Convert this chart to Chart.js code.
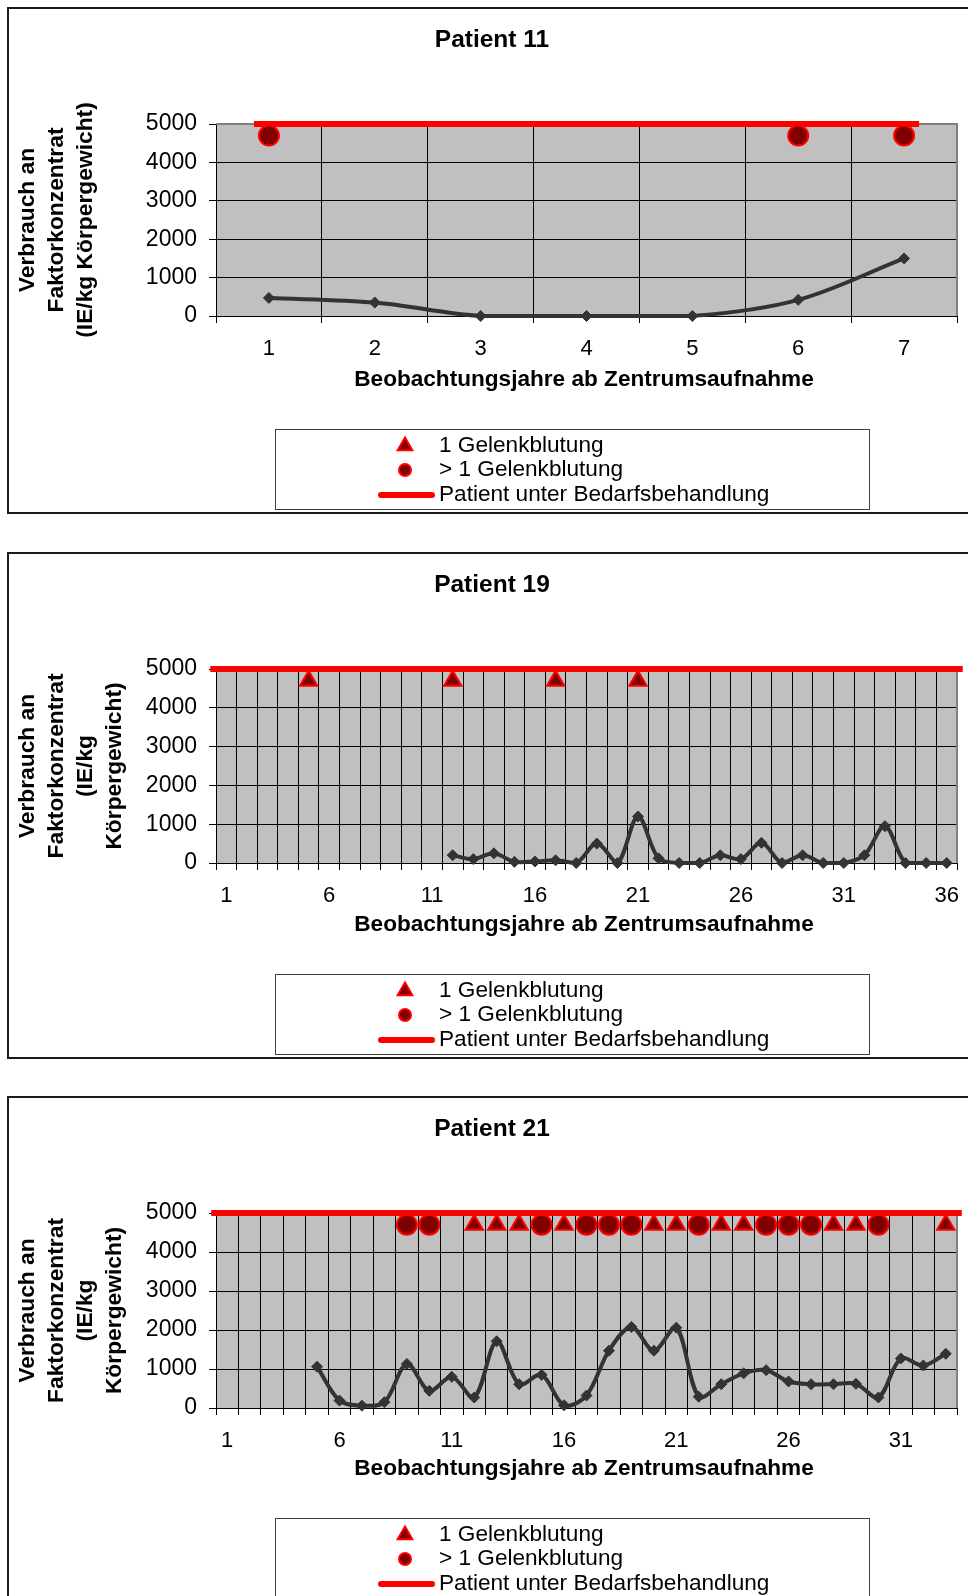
<!DOCTYPE html>
<html lang="de">
<head>
<meta charset="utf-8">
<title>Faktorverbrauch und Gelenkblutungen</title>
<script src="https://cdn.jsdelivr.net/npm/chart.js@4.4.1/dist/chart.umd.min.js"></script>
<style>
  html, body { margin: 0; padding: 0; background: #fff; overflow: hidden; }
  body { width: 968px; height: 1596px; position: relative; }
  canvas { position: absolute; left: 0; display: block; }
</style>
</head>
<body>
<canvas id="p11" width="968" height="545" style="top:0"></canvas>
<canvas id="p19" width="968" height="545" style="top:545px"></canvas>
<canvas id="p21" width="968" height="507" style="top:1089px"></canvas>
<script>
// Patient 11
const jahre11 = ['1', '2', '3', '4', '5', '6', '7'];
const achse11 = ['1', '2', '3', '4', '5', '6', '7'];
const verbrauch11 = [470, 350, 0, 0, 0, 420, 1500];
const bedarf11 = [5000, 5000, 5000, 5000, 5000, 5000, 5000];
const eineBlutung11 = [];
const mehrBlutung11 = [1, 6, 7];

// Patient 19
const jahre19 = ['1', '2', '3', '4', '5', '6', '7', '8', '9', '10', '11', '12',
  '13', '14', '15', '16', '17', '18', '19', '20', '21', '22', '23', '24',
  '25', '26', '27', '28', '29', '30', '31', '32', '33', '34', '35', '36'];
const achse19 = ['1', '6', '11', '16', '21', '26', '31', '36'];
const verbrauch19 = [null, null, null, null, null, null, null, null, null, null, null,
  200, 100, 250, 30, 40, 70, 0, 500, 0, 1200, 120, 0, 0, 200, 100, 520, 0, 200, 0, 0,
  200, 950, 0, 0, 0];
const bedarf19 = [5000, 5000, 5000, 5000, 5000, 5000, 5000, 5000, 5000, 5000, 5000, 5000,
  5000, 5000, 5000, 5000, 5000, 5000, 5000, 5000, 5000, 5000, 5000, 5000,
  5000, 5000, 5000, 5000, 5000, 5000, 5000, 5000, 5000, 5000, 5000, 5000];
const eineBlutung19 = [5, 12, 17, 21];
const mehrBlutung19 = [];

// Patient 21
const jahre21 = ['1', '2', '3', '4', '5', '6', '7', '8', '9', '10', '11', '12',
  '13', '14', '15', '16', '17', '18', '19', '20', '21', '22', '23', '24',
  '25', '26', '27', '28', '29', '30', '31', '32', '33'];
const achse21 = ['1', '6', '11', '16', '21', '26', '31'];
const verbrauch21 = [null, null, null, null,
  1060, 190, 60, 150, 1130, 440, 800, 270, 1710, 610, 850, 70, 320, 1470, 2080,
  1470, 2060, 290, 610, 890, 970, 680, 610, 610, 620, 270, 1270, 1090, 1390];
const bedarf21 = [5000, 5000, 5000, 5000, 5000, 5000, 5000, 5000, 5000, 5000, 5000,
  5000, 5000, 5000, 5000, 5000, 5000, 5000, 5000, 5000, 5000, 5000,
  5000, 5000, 5000, 5000, 5000, 5000, 5000, 5000, 5000, 5000, 5000];
const eineBlutung21 = [12, 13, 14, 16, 20, 21, 23, 24, 28, 29, 33];
const mehrBlutung21 = [9, 10, 15, 17, 18, 19, 22, 25, 26, 27, 30];

// Markerzeile für Blutungsereignisse knapp unter der Bedarfslinie
const blutungsMarke = 4700;

const yTitel3 = ['Verbrauch an', 'Faktorkonzentrat', '(IE/kg Körpergewicht)'];
const yTitel4 = ['Verbrauch an', 'Faktorkonzentrat', '(IE/kg', 'Körpergewicht)'];
const xTitel = 'Beobachtungsjahre ab Zentrumsaufnahme';

const SCHRIFT = "'Liberation Sans', Arial, Helvetica, sans-serif";
Chart.defaults.font.family = SCHRIFT;
Chart.defaults.color = '#000';

function marker(jahre, liste) {
  return jahre.map(j => (liste.includes(Number(j)) ? blutungsMarke : null));
}

function zeichneSymbol(ctx, ds, x, y, r) {
  ctx.save();
  ctx.fillStyle = ds.pointBackgroundColor;
  ctx.strokeStyle = ds.pointBorderColor;
  ctx.lineWidth = 2;
  ctx.beginPath();
  if (ds.pointStyle === 'triangle') {
    ctx.moveTo(x, y - r);
    ctx.lineTo(x + r * 0.866, y + r * 0.5);
    ctx.lineTo(x - r * 0.866, y + r * 0.5);
    ctx.closePath();
  } else {
    ctx.arc(x, y, r, 0, Math.PI * 2);
  }
  ctx.fill();
  ctx.stroke();
  ctx.restore();
}

const panelDeko = {
  id: 'panelDeko',
  beforeDraw(chart) {
    const { ctx, chartArea: a } = chart;
    ctx.save();
    ctx.fillStyle = '#fff';
    ctx.fillRect(0, 0, chart.width, chart.height);
    ctx.fillStyle = '#c0c0c0';
    ctx.fillRect(a.left, a.top, a.right - a.left, a.bottom - a.top);
    ctx.restore();
  },
  beforeDatasetsDraw(chart) {
    const { ctx, chartArea: a } = chart;
    ctx.save();
    ctx.strokeStyle = '#808080';
    ctx.lineWidth = 2;
    ctx.beginPath();
    ctx.moveTo(a.left, a.top);
    ctx.lineTo(a.right, a.top);
    ctx.lineTo(a.right, a.bottom);
    ctx.stroke();
    ctx.restore();
  },
  afterDraw(chart, args, opts) {
    const { ctx, chartArea: a } = chart;
    const ds = chart.data.datasets;
    ctx.save();

    // Rahmen des Diagramms
    ctx.strokeStyle = '#1a1a1a';
    ctx.lineWidth = 2;
    ctx.strokeRect(8, 8, 980, 505);

    ctx.fillStyle = '#000';
    ctx.textAlign = 'center';
    ctx.textBaseline = 'middle';

    ctx.font = 'bold 24.5px ' + SCHRIFT;
    ctx.fillText(opts.titel, 492, 40);

    ctx.font = 'bold 22.6px ' + SCHRIFT;
    ctx.fillText(xTitel, 584, 380);

    const cy = (a.top + a.bottom) / 2;
    ctx.font = 'bold 22.8px ' + SCHRIFT;
    opts.yTitel.forEach((zeile, i) => {
      ctx.save();
      ctx.translate(27.5 + i * 29, cy);
      ctx.rotate(-Math.PI / 2);
      ctx.fillText(zeile, 0, 0);
      ctx.restore();
    });

    // Legende
    ctx.fillStyle = '#fff';
    ctx.fillRect(275, 429, 594, 80);
    ctx.strokeStyle = '#404040';
    ctx.lineWidth = 1;
    ctx.strokeRect(275.5, 429.5, 594, 80);

    const zeilen = [446, 470, 495];
    zeichneSymbol(ctx, ds[0], 405, zeilen[0], 8.5);
    zeichneSymbol(ctx, ds[1], 405, zeilen[1], 6);
    ctx.strokeStyle = ds[2].borderColor;
    ctx.lineWidth = 6;
    ctx.lineCap = 'round';
    ctx.beginPath();
    ctx.moveTo(381, zeilen[2]);
    ctx.lineTo(432, zeilen[2]);
    ctx.stroke();

    ctx.fillStyle = '#000';
    ctx.textAlign = 'left';
    ctx.font = '22.6px ' + SCHRIFT;
    for (let i = 0; i < 3; i++) ctx.fillText(ds[i].label, 439, zeilen[i]);
    ctx.restore();
  }
};

function diagramm(id, jahre, achse, verbrauch, bedarf, eine, mehr, titel, yTitel, unten, strich) {
  const canvas = document.getElementById(id);
  const rechts = 957;
  return new Chart(canvas, {
    type: 'line',
    data: {
      labels: jahre,
      datasets: [
        {
          label: '1 Gelenkblutung',
          data: marker(jahre, eine),
          showLine: false,
          pointStyle: 'triangle',
          pointRadius: 10,
          pointBackgroundColor: '#800000',
          pointBorderColor: '#ff0000',
          pointBorderWidth: 2,
          clip: false
        },
        {
          label: '> 1 Gelenkblutung',
          data: marker(jahre, mehr),
          showLine: false,
          pointStyle: 'circle',
          pointRadius: 10,
          pointBackgroundColor: '#800000',
          pointBorderColor: '#ff0000',
          pointBorderWidth: 2,
          clip: false
        },
        {
          label: 'Patient unter Bedarfsbehandlung',
          data: bedarf,
          borderColor: '#ff0000',
          borderWidth: 6,
          tension: 0,
          pointStyle: 'line',
          pointRadius: strich,
          pointBorderColor: '#ff0000',
          pointBorderWidth: 6,
          clip: false
        },
        {
          label: 'Verbrauch',
          data: verbrauch,
          borderColor: '#333333',
          borderWidth: 4,
          tension: 0.33,
          pointStyle: 'rectRot',
          pointRadius: 5.5,
          pointBackgroundColor: '#333333',
          pointBorderColor: '#333333',
          pointBorderWidth: 1,
          clip: false
        }
      ]
    },
    options: {
      responsive: false,
      animation: false,
      events: [],
      layout: {
        autoPadding: false,
        padding: { top: 124, left: 0, right: 968 - rechts, bottom: 0 }
      },
      plugins: {
        legend: { display: false },
        tooltip: { enabled: false },
        panelDeko: { titel: titel, yTitel: yTitel }
      },
      scales: {
        x: {
          type: 'category',
          offset: true,
          grid: { offset: true, color: '#000', lineWidth: 1, tickLength: 7 },
          border: { color: '#000', width: 1 },
          ticks: {
            autoSkip: false,
            maxRotation: 0,
            padding: 13,
            font: { size: 22 },
            callback(v, i) {
              const l = jahre[i];
              return achse.includes(l) ? l : '';
            }
          },
          afterFit(s) {
            s.height = canvas.height - unten;
            s.paddingLeft = 0;
            s.paddingRight = 0;
          }
        },
        y: {
          min: 0,
          max: 5000,
          grid: { color: '#000', lineWidth: 1, tickLength: 7 },
          border: { color: '#000', width: 1 },
          ticks: {
            stepSize: 1000,
            padding: 12,
            font: { size: 23 },
            callback: v => String(v)
          },
          afterFit(s) { s.width = 216; }
        }
      }
    },
    plugins: [panelDeko]
  });
}

diagramm('p11', jahre11, achse11, verbrauch11, bedarf11, eineBlutung11, mehrBlutung11,
  'Patient 11', yTitel3, 316, 15);
diagramm('p19', jahre19, achse19, verbrauch19, bedarf19, eineBlutung19, mehrBlutung19,
  'Patient 19', yTitel4, 318, 16);
diagramm('p21', jahre21, achse21, verbrauch21, bedarf21, eineBlutung21, mehrBlutung21,
  'Patient 21', yTitel4, 319, 16);
</script>
</body>
</html>
